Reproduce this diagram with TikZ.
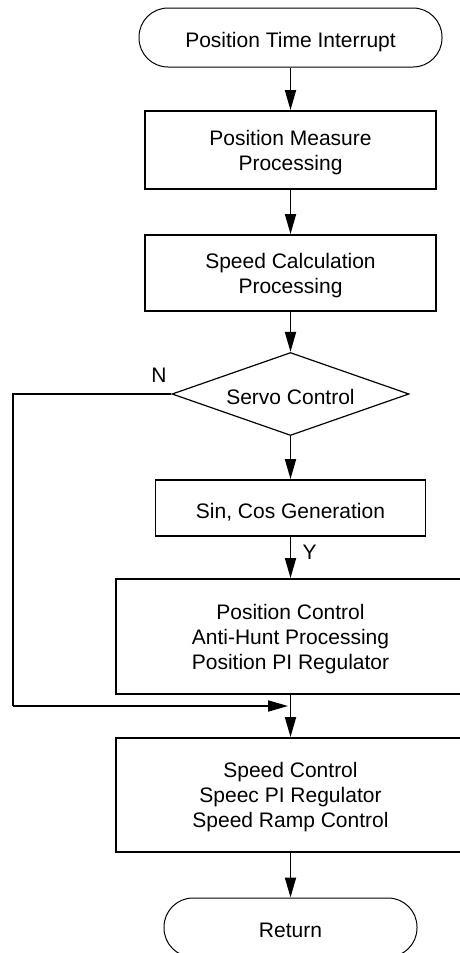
\documentclass[tikz,border=0pt]{standalone}
\usepackage{fontspec}
\setmainfont{Liberation Sans}
\usetikzlibrary{shapes.geometric,arrows.meta}
\begin{document}
\begin{tikzpicture}[x=1pt,y=-1pt,
  every node/.style={font=\fontsize{21}{25}\selectfont},
  box/.style={draw,line width=1.8pt,rectangle,align=center,inner sep=0pt,text depth=0pt},
  oneline/.style={text height=20pt,text depth=0pt},
  term/.style={draw,line width=1pt,rectangle,rounded corners=29pt,inner sep=0pt,oneline},
  dec/.style={draw,line width=1.2pt,diamond,shape aspect=2.85,inner sep=0pt,oneline},
  arr/.style={line width=1.8pt,-{Triangle[length=20pt,width=11pt]}},
  wire/.style={line width=1.8pt}]
\useasboundingbox (0,0) rectangle (460,953);
\clip (0,0) rectangle (460,953);

\node[term, minimum width=303pt, minimum height=59pt] (start) at (290.5,37.5) {Position Time Interrupt};
\node[box, minimum width=291pt, minimum height=78pt] (b1) at (290.5,150) {Position Measure\\Processing};
\node[box, minimum width=291pt, minimum height=76pt] (b2) at (290.5,273) {Speed Calculation\\Processing};
\node[dec, minimum width=237pt, minimum height=83pt] (dia) at (290.5,394) {Servo Control};
\node[box, oneline, minimum width=270pt, minimum height=56pt] (b3) at (290.5,508) {Sin, Cos Generation};
\node[box, minimum width=349pt, minimum height=115pt] (b4) at (290.5,636.5) {Position Control\\Anti-Hunt Processing\\Position PI Regulator};
\node[box, minimum width=349pt, minimum height=114pt] (b5) at (290.5,795) {Speed Control\\Speec PI Regulator\\Speed Ramp Control};
\node[term, minimum width=253pt, minimum height=59pt] (ret) at (290.5,927.5) {Return};

\node (nlab) at (159,375) {N};
\coordinate (lft) at (13,706);
\coordinate (merge) at (290.5,706);

\draw[arr] (start.south) -- (b1.north);
\draw[arr] (b1.south) -- (b2.north);
\draw[arr] (b2.south) -- (dia.north);
\draw[arr] (dia.south) -- (b3.north);
\draw[arr] (b3.south) -- node[right=8pt, pos=0.38] (ylab) {Y} (b4.north);
\draw[wire] (dia.west) -| (lft);
\draw[arr, shorten >=2.5pt] (lft) -- (merge);
\draw[arr] (b4.south) -- (b5.north);
\draw[arr] (b5.south) -- (ret.north);
\end{tikzpicture}
\end{document}
